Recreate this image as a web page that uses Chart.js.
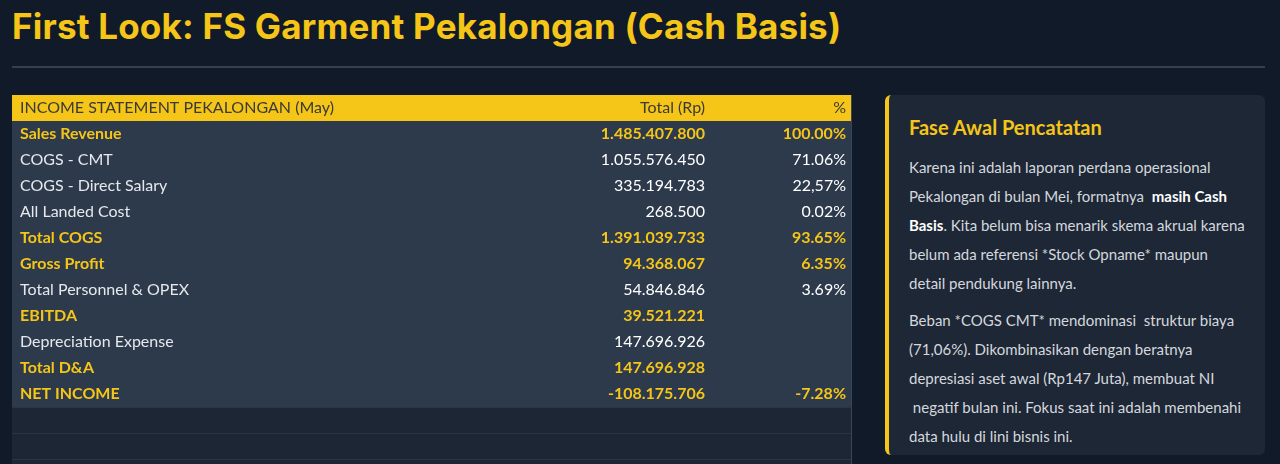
<!DOCTYPE html>
<html><head><meta charset="utf-8">
<script src="https://cdn.jsdelivr.net/npm/chart.js@4/dist/chart.umd.min.js"></script>
<style>
body{margin:0;background:#111a28;font-family:Lato,sans-serif;width:1280px;height:464px;overflow:hidden;position:relative}
h1{position:absolute;left:12px;top:0;margin:0;font:bold 35px Inter,sans-serif;color:#f5c518;line-height:52px;letter-spacing:0.2px}
.hr{position:absolute;left:12px;top:66px;width:1253px;height:2px;background:#35404f}
#wrap{position:absolute;left:12px;top:95px;width:840px;height:395px}
.panel{position:absolute;left:885px;top:95px;width:380px;height:360px;background:#1e2735;border-left:4px solid #f5c518;border-radius:6px;box-sizing:border-box;padding:20px 20px}
.panel h2{margin:0 0 14px;font:bold 20px Lato,sans-serif;color:#f5c518}
.panel p{margin:0 0 8px;font-size:15px;line-height:29px;color:#d4d8de}
.panel b{color:#fff}
</style></head><body>
<h1>First Look: FS Garment Pekalongan (Cash Basis)</h1>
<div class="hr"></div>
<div id="wrap"><canvas id="tbl"></canvas></div>
<div class="panel">
<h2>Fase Awal Pencatatan</h2>
<p>Karena ini adalah laporan perdana operasional Pekalongan di bulan Mei, formatnya &nbsp;<b>masih Cash Basis</b>. Kita belum bisa menarik skema akrual karena belum ada referensi *Stock Opname* maupun detail pendukung lainnya.</p>
<p>Beban *COGS CMT* mendominasi &nbsp;struktur biaya (71,06%). Dikombinasikan dengan beratnya depresiasi aset awal (Rp147 Juta), membuat NI &nbsp;negatif bulan ini. Fokus saat ini adalah membenahi data hulu di lini bisnis ini.</p>
</div>
<script>
const headers = ['INCOME STATEMENT PEKALONGAN (May)', 'Total (Rp)', '%'];
const rowLabels = ['Sales Revenue','COGS - CMT','COGS - Direct Salary','All Landed Cost','Total COGS','Gross Profit','Total Personnel & OPEX','EBITDA','Depreciation Expense','Total D&A','NET INCOME'];
const totals = ['1.485.407.800','1.055.576.450','335.194.783','268.500','1.391.039.733','94.368.067','54.846.846','39.521.221','147.696.926','147.696.928','-108.175.706'];
const percents = ['100.00%','71.06%','22,57%','0.02%','93.65%','6.35%','3.69%','','','','-7.28%'];
const boldRows = [true,false,false,false,true,true,false,true,false,true,true];
const emptyRows = 3;

const categories = ['header'].concat(rowLabels, Array(emptyRows).fill(''));

const tablePlugin = {
  id: 'tablePlugin',
  beforeDatasetsDraw(chart) {
    const ctx = chart.ctx, y = chart.scales.y;
    const L = 0, R = chart.width;
    ctx.save();
    categories.forEach((c, i) => {
      const yc = y.getPixelForValue(i);
      const top = yc - 13;
      if (i === 0) ctx.fillStyle = '#f5c518';
      else if (i <= rowLabels.length) ctx.fillStyle = '#2d3a4c';
      else ctx.fillStyle = '#1c2635';
      ctx.fillRect(L, top, R, 26);
      if (i > rowLabels.length) {
        ctx.fillStyle = '#2a3444';
        ctx.fillRect(L, top, R, 1);
      }
      ctx.textBaseline = 'middle';
      if (i === 0) {
        ctx.fillStyle = '#3a3a3a';
        ctx.font = '16px Lato, sans-serif';
        ctx.textAlign = 'left'; ctx.fillText(headers[0], 8, yc);
        ctx.textAlign = 'right'; ctx.fillText(headers[1], 693, yc); ctx.fillText(headers[2], 834, yc);
      } else if (i <= rowLabels.length) {
        const r = i - 1, b = boldRows[r];
        ctx.fillStyle = b ? '#f5c518' : '#e6e8eb';
        ctx.font = (b ? 'bold ' : '') + '16px Lato, sans-serif';
        ctx.textAlign = 'left'; ctx.fillText(rowLabels[r], 8, yc);
        ctx.fillStyle = b ? '#f5c518' : '#ffffff';
        ctx.textAlign = 'right'; ctx.fillText(totals[r], 693, yc); ctx.fillText(percents[r], 834, yc);
      }
    });
    ctx.fillStyle = '#3a4556';
    ctx.fillRect(R - 1, 0, 1, chart.height);
    ctx.restore();
  }
};

new Chart(document.getElementById('tbl'), {
  type: 'bar',
  data: { labels: categories, datasets: [{ data: categories.map(() => null) }] },
  options: {
    indexAxis: 'y', responsive: true, maintainAspectRatio: false, animation: false,
    layout: { padding: { top: 0, bottom: 5 } },
    plugins: { legend: { display: false }, tooltip: { enabled: false } },
    scales: { y: { display: false, offset: true }, x: { display: false } }
  },
  plugins: [tablePlugin]
});
</script>
</body></html>
